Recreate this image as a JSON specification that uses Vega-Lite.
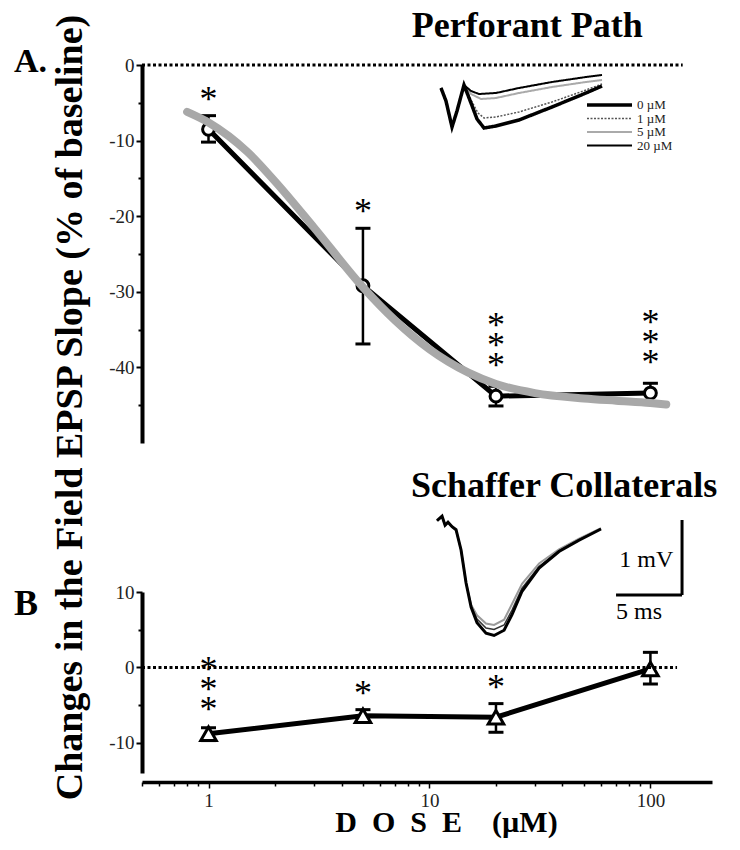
{
  "$schema": "https://vega.github.io/schema/vega-lite/v6.json",
  "padding": {"left": 13, "top": 8, "right": 5, "bottom": 5},
  "config": {
    "font": "Liberation Serif",
    "view": {"stroke": null},
    "axis": {"grid": false, "domainColor": "black", "tickColor": "black", "labelColor": "#222", "labelFont": "Liberation Serif", "labelFontSize": 19, "titleFont": "Liberation Serif", "titleColor": "black"},
    "legend": {"orient": "none", "legendX": 443, "legendY": 34, "symbolType": "stroke", "symbolSize": 2025, "clipHeight": 12, "labelFont": "Liberation Serif", "labelFontSize": 13, "labelColor": "#222", "rowPadding": 0.5, "labelOffset": 3}
  },
  "datasets": {
    "ptsA": [
      {"dose": 1, "mean": -8.5, "lo": -10.2, "hi": -6.7, "stars": "*"},
      {"dose": 5, "mean": -29.2, "lo": -36.9, "hi": -21.6, "stars": "*"},
      {"dose": 20, "mean": -43.8, "lo": -45.1, "hi": -42.5, "stars": "***"},
      {"dose": 100, "mean": -43.4, "lo": -44.7, "hi": -42.1, "stars": "***"}
    ],
    "fitA": [
      {"dose": 0.8, "fit": -6.2},
      {"dose": 1, "fit": -7.6},
      {"dose": 1.5, "fit": -11.5},
      {"dose": 2, "fit": -15.4},
      {"dose": 3, "fit": -21.5},
      {"dose": 5, "fit": -29.4},
      {"dose": 7, "fit": -33.8},
      {"dose": 10, "fit": -37.6},
      {"dose": 15, "fit": -40.7},
      {"dose": 20, "fit": -42.2},
      {"dose": 30, "fit": -43.4},
      {"dose": 50, "fit": -44.1},
      {"dose": 70, "fit": -44.4},
      {"dose": 100, "fit": -44.7},
      {"dose": 118, "fit": -44.9}
    ],
    "ptsB": [
      {"dose": 1, "mean": -8.8, "lo": -9.7, "hi": -8.0, "stars": "***"},
      {"dose": 5, "mean": -6.4, "lo": -7.2, "hi": -5.6, "stars": "*"},
      {"dose": 20, "mean": -6.6, "lo": -8.6, "hi": -4.8, "stars": "*"},
      {"dose": 100, "mean": -0.2, "lo": -2.2, "hi": 2.0, "stars": ""}
    ],
    "tracesA": [
      {"conc": "5 µM", "t": 0, "v": -0.25}, {"conc": "5 µM", "t": 0.5, "v": -0.9}, {"conc": "5 µM", "t": 1.1, "v": -2.2}, {"conc": "5 µM", "t": 1.6, "v": -1.4}, {"conc": "5 µM", "t": 2.3, "v": -0.1},
      {"conc": "5 µM", "t": 3.0, "v": -0.55}, {"conc": "5 µM", "t": 4.0, "v": -0.8}, {"conc": "5 µM", "t": 5.5, "v": -0.75}, {"conc": "5 µM", "t": 7.8, "v": -0.5}, {"conc": "5 µM", "t": 11.1, "v": -0.2}, {"conc": "5 µM", "t": 14.5, "v": 0.05}, {"conc": "5 µM", "t": 16.1, "v": 0.15},
      {"conc": "1 µM", "t": 0, "v": -0.25}, {"conc": "1 µM", "t": 0.5, "v": -0.9}, {"conc": "1 µM", "t": 1.1, "v": -2.2}, {"conc": "1 µM", "t": 1.6, "v": -1.4}, {"conc": "1 µM", "t": 2.3, "v": -0.1},
      {"conc": "1 µM", "t": 3.0, "v": -0.85}, {"conc": "1 µM", "t": 3.7, "v": -1.5}, {"conc": "1 µM", "t": 4.3, "v": -1.75}, {"conc": "1 µM", "t": 5.5, "v": -1.7}, {"conc": "1 µM", "t": 7.8, "v": -1.45}, {"conc": "1 µM", "t": 11.1, "v": -0.95}, {"conc": "1 µM", "t": 14.5, "v": -0.35}, {"conc": "1 µM", "t": 16.1, "v": -0.05},
      {"conc": "20 µM", "t": 0, "v": -0.25}, {"conc": "20 µM", "t": 0.5, "v": -0.9}, {"conc": "20 µM", "t": 1.1, "v": -2.2}, {"conc": "20 µM", "t": 1.6, "v": -1.4}, {"conc": "20 µM", "t": 2.3, "v": -0.1},
      {"conc": "20 µM", "t": 3.0, "v": -0.4}, {"conc": "20 µM", "t": 3.8, "v": -0.55}, {"conc": "20 µM", "t": 5.5, "v": -0.5}, {"conc": "20 µM", "t": 7.8, "v": -0.25}, {"conc": "20 µM", "t": 11.1, "v": 0.05}, {"conc": "20 µM", "t": 14.5, "v": 0.3}, {"conc": "20 µM", "t": 16.1, "v": 0.4},
      {"conc": "0 µM", "t": 0, "v": -0.25}, {"conc": "0 µM", "t": 0.5, "v": -0.9}, {"conc": "0 µM", "t": 1.1, "v": -2.2}, {"conc": "0 µM", "t": 1.6, "v": -1.4}, {"conc": "0 µM", "t": 2.3, "v": -0.1},
      {"conc": "0 µM", "t": 3.0, "v": -1.0}, {"conc": "0 µM", "t": 3.6, "v": -1.8}, {"conc": "0 µM", "t": 4.3, "v": -2.25}, {"conc": "0 µM", "t": 5.5, "v": -2.15}, {"conc": "0 µM", "t": 7.8, "v": -1.85}, {"conc": "0 µM", "t": 11.1, "v": -1.2}, {"conc": "0 µM", "t": 14.5, "v": -0.5}, {"conc": "0 µM", "t": 16.1, "v": -0.15}
    ],
    "tracesB": [
      {"tr": "b3", "t": 0, "v": -0.01}, {"tr": "b3", "t": 0.38, "v": 0.05}, {"tr": "b3", "t": 0.61, "v": -0.07}, {"tr": "b3", "t": 0.83, "v": -0.03}, {"tr": "b3", "t": 1.14, "v": -0.09}, {"tr": "b3", "t": 1.44, "v": -0.13}, {"tr": "b3", "t": 1.82, "v": -0.4}, {"tr": "b3", "t": 2.2, "v": -0.84}, {"tr": "b3", "t": 2.58, "v": -1.13},
      {"tr": "b3", "t": 3.03, "v": -1.27}, {"tr": "b3", "t": 3.71, "v": -1.38}, {"tr": "b3", "t": 4.32, "v": -1.4}, {"tr": "b3", "t": 5.08, "v": -1.33}, {"tr": "b3", "t": 5.68, "v": -1.12}, {"tr": "b3", "t": 6.44, "v": -0.85}, {"tr": "b3", "t": 7.73, "v": -0.58}, {"tr": "b3", "t": 9.24, "v": -0.39}, {"tr": "b3", "t": 10.76, "v": -0.25}, {"tr": "b3", "t": 12.42, "v": -0.11},
      {"tr": "b2", "t": 0, "v": -0.01}, {"tr": "b2", "t": 0.38, "v": 0.05}, {"tr": "b2", "t": 0.61, "v": -0.07}, {"tr": "b2", "t": 0.83, "v": -0.03}, {"tr": "b2", "t": 1.14, "v": -0.09}, {"tr": "b2", "t": 1.44, "v": -0.13}, {"tr": "b2", "t": 1.82, "v": -0.4}, {"tr": "b2", "t": 2.2, "v": -0.84}, {"tr": "b2", "t": 2.58, "v": -1.15},
      {"tr": "b2", "t": 3.03, "v": -1.32}, {"tr": "b2", "t": 3.71, "v": -1.44}, {"tr": "b2", "t": 4.32, "v": -1.46}, {"tr": "b2", "t": 5.08, "v": -1.4}, {"tr": "b2", "t": 5.68, "v": -1.2}, {"tr": "b2", "t": 6.44, "v": -0.91}, {"tr": "b2", "t": 7.73, "v": -0.62}, {"tr": "b2", "t": 9.24, "v": -0.41}, {"tr": "b2", "t": 10.76, "v": -0.26}, {"tr": "b2", "t": 12.42, "v": -0.12},
      {"tr": "b1", "t": 0, "v": -0.01}, {"tr": "b1", "t": 0.38, "v": 0.05}, {"tr": "b1", "t": 0.61, "v": -0.07}, {"tr": "b1", "t": 0.83, "v": -0.03}, {"tr": "b1", "t": 1.14, "v": -0.09}, {"tr": "b1", "t": 1.44, "v": -0.13}, {"tr": "b1", "t": 1.82, "v": -0.4}, {"tr": "b1", "t": 2.2, "v": -0.84}, {"tr": "b1", "t": 2.58, "v": -1.16},
      {"tr": "b1", "t": 3.03, "v": -1.37}, {"tr": "b1", "t": 3.71, "v": -1.51}, {"tr": "b1", "t": 4.32, "v": -1.54}, {"tr": "b1", "t": 5.08, "v": -1.47}, {"tr": "b1", "t": 5.68, "v": -1.26}, {"tr": "b1", "t": 6.44, "v": -0.95}, {"tr": "b1", "t": 7.73, "v": -0.64}, {"tr": "b1", "t": 9.24, "v": -0.42}, {"tr": "b1", "t": 10.76, "v": -0.27}, {"tr": "b1", "t": 12.42, "v": -0.12}
    ]
  },
  "vconcat": [
    {
      "width": 570,
      "height": 378,
      "layer": [
        {
          "layer": [
            {
              "data": {"name": "ptsA"},
              "encoding": {
                "x": {"field": "dose", "type": "quantitative", "scale": {"type": "log", "domain": [0.5, 190], "nice": false}, "axis": null},
                "y": {"field": "mean", "type": "quantitative", "scale": {"domain": [-50, 0], "nice": false, "zero": false},
                  "axis": {
                    "values": [0, -5, -10, -15, -20, -25, -30, -35, -40, -45],
                    "labelExpr": "datum.value % 10 == 0 ? toString(datum.value) : ''",
                    "tickSize": {"condition": {"test": "datum.value % 10 == 0", "value": 6}, "value": 4},
                    "tickWidth": 2, "domainWidth": 4, "labelPadding": 2,
                    "title": "Changes in the Field EPSP Slope (% of baseline)",
                    "titleFontSize": 38, "titleFontWeight": "bold",
                    "titleX": -72, "titleY": 342, "titleAngle": 270, "titleAlign": "center", "titleBaseline": "middle"
                  }}
              },
              "layer": [
                {"mark": {"type": "line", "color": "black", "strokeWidth": 5}},
                {"mark": {"type": "rule", "color": "black", "strokeWidth": 2.5},
                  "encoding": {"y": {"field": "lo", "type": "quantitative"}, "y2": {"field": "hi"}}},
                {"mark": {"type": "tick", "orient": "horizontal", "color": "black", "size": 15, "thickness": 3, "opacity": 1},
                  "encoding": {"y": {"field": "lo", "type": "quantitative"}}},
                {"mark": {"type": "tick", "orient": "horizontal", "color": "black", "size": 15, "thickness": 3, "opacity": 1},
                  "encoding": {"y": {"field": "hi", "type": "quantitative"}}},
                {"mark": {"type": "point", "shape": "circle", "size": 140, "filled": true, "fill": "white", "stroke": "black", "strokeWidth": 3, "opacity": 1}},
                {"data": {"name": "fitA"}, "mark": {"type": "line", "color": "#a8a8a8", "strokeWidth": 8, "interpolate": "monotone", "strokeCap": "round"},
                  "encoding": {"y": {"field": "fit", "type": "quantitative"}}},
                {"transform": [{"filter": "datum.stars == '*'"}],
                  "mark": {"type": "text", "text": "*", "fontSize": 36, "baseline": "bottom", "dy": 3, "color": "black"},
                  "encoding": {"y": {"field": "hi", "type": "quantitative"}}},
                {"transform": [{"filter": "datum.stars == '***'"}],
                  "mark": {"type": "text", "text": ["*", "*", "*"], "fontSize": 36, "lineHeight": 20, "baseline": "bottom", "dy": -41, "color": "black"},
                  "encoding": {"y": {"field": "hi", "type": "quantitative"}}}
              ]
            },
            {
              "data": {"values": [{}]},
              "layer": [
                {"mark": {"type": "rule", "strokeDash": [3, 2.5], "strokeWidth": 3, "color": "black"},
                  "encoding": {"x": {"datum": 0.5}, "x2": {"datum": 140}, "y": {"datum": 0}}},
                {"mark": {"type": "text", "text": "A.", "fontSize": 34, "fontWeight": "bold", "align": "left", "baseline": "alphabetic", "color": "black"},
                  "encoding": {"x": {"datum": 0.1317}, "y": {"datum": -0.93}}},
                {"mark": {"type": "text", "text": "Perforant Path", "fontSize": 36, "fontWeight": "bold", "align": "center", "baseline": "alphabetic", "color": "black"},
                  "encoding": {"x": {"datum": 27.7}, "y": {"datum": 3.7}}}
              ]
            }
          ]
        },
        {
          "data": {"name": "tracesA"},
          "mark": {"type": "line"},
          "encoding": {
            "x": {"field": "t", "type": "quantitative", "scale": {"domain": [-29.9, 27.1], "nice": false, "zero": false}, "axis": null},
            "y": {"field": "v", "type": "quantitative", "scale": {"domain": [-18, 0.9], "nice": false, "zero": false}, "axis": null},
            "color": {"field": "conc", "type": "nominal", "scale": {"domain": ["0 µM", "1 µM", "5 µM", "20 µM"], "range": ["black", "#555555", "#aaaaaa", "black"]}, "legend": {"title": null}},
            "strokeDash": {"field": "conc", "type": "nominal", "scale": {"domain": ["0 µM", "1 µM", "5 µM", "20 µM"], "range": [[1, 0], [2, 1.5], [1, 0], [1, 0]]}, "legend": {"title": null}},
            "strokeWidth": {"field": "conc", "type": "ordinal", "scale": {"type": "ordinal", "domain": ["0 µM", "1 µM", "5 µM", "20 µM"], "range": [3.5, 1.5, 2, 2]}, "legend": {"title": null}}
          }
        }
      ],
      "resolve": {"scale": {"x": "independent", "y": "independent"}}
    },
    {
      "width": 570,
      "height": 181,
      "layer": [
        {
          "layer": [
            {
              "data": {"name": "ptsB"},
              "encoding": {
                "x": {"field": "dose", "type": "quantitative", "scale": {"type": "log", "domain": [0.5, 190], "nice": false},
                  "axis": {
                    "values": [0.5, 0.6, 0.7, 0.8, 0.9, 1, 2, 3, 4, 5, 6, 7, 8, 9, 10, 20, 30, 40, 50, 60, 70, 80, 90, 100],
                    "labelExpr": "(datum.value == 1 || datum.value == 10 || datum.value == 100) ? toString(datum.value) : ''",
                    "tickSize": {"condition": {"test": "datum.value == 1 || datum.value == 10 || datum.value == 100", "value": 6}, "value": 4},
                    "tickWidth": 1.5, "domainWidth": 3.5, "offset": 9, "labelPadding": 3, "labelFlush": false, "labelOverlap": false,
                    "title": "D\u2002O\u2002S\u2002E\u2003(µM)", "titleFontSize": 30, "titleFontWeight": "bold", "titleX": 304, "titlePadding": -3
                  }},
                "y": {"field": "mean", "type": "quantitative", "scale": {"domain": [-14, 10], "nice": false, "zero": false},
                  "axis": {
                    "values": [10, 5, 0, -5, -10],
                    "labelExpr": "datum.value % 10 == 0 ? toString(datum.value) : ''",
                    "tickSize": {"condition": {"test": "datum.value % 10 == 0", "value": 6}, "value": 4},
                    "tickWidth": 2, "domainWidth": 4, "labelPadding": 2, "title": null
                  }}
              },
              "layer": [
                {"mark": {"type": "line", "color": "black", "strokeWidth": 5}},
                {"mark": {"type": "rule", "color": "black", "strokeWidth": 2.5},
                  "encoding": {"y": {"field": "lo", "type": "quantitative"}, "y2": {"field": "hi"}}},
                {"mark": {"type": "tick", "orient": "horizontal", "color": "black", "size": 15, "thickness": 3, "opacity": 1},
                  "encoding": {"y": {"field": "lo", "type": "quantitative"}}},
                {"mark": {"type": "tick", "orient": "horizontal", "color": "black", "size": 15, "thickness": 3, "opacity": 1},
                  "encoding": {"y": {"field": "hi", "type": "quantitative"}}},
                {"mark": {"type": "point", "shape": "triangle-up", "size": 240, "filled": true, "fill": "white", "stroke": "black", "strokeWidth": 3, "opacity": 1}},
                {"transform": [{"filter": "datum.stars == '*'"}],
                  "mark": {"type": "text", "text": "*", "fontSize": 36, "baseline": "bottom", "dy": 3, "color": "black"},
                  "encoding": {"y": {"field": "hi", "type": "quantitative"}}},
                {"transform": [{"filter": "datum.stars == '***'"}],
                  "mark": {"type": "text", "text": ["*", "*", "*"], "fontSize": 36, "lineHeight": 20, "baseline": "bottom", "dy": -39, "color": "black"},
                  "encoding": {"y": {"field": "hi", "type": "quantitative"}}}
              ]
            },
            {
              "data": {"values": [{}]},
              "layer": [
                {"mark": {"type": "rule", "strokeDash": [3, 2.5], "strokeWidth": 3, "color": "black"},
                  "encoding": {"x": {"datum": 0.5}, "x2": {"datum": 132}, "y": {"datum": 0}}},
                {"mark": {"type": "text", "text": "B", "fontSize": 36, "fontWeight": "bold", "align": "left", "baseline": "alphabetic", "color": "black"},
                  "encoding": {"x": {"datum": 0.1317}, "y": {"datum": 6.95}}},
                {"mark": {"type": "text", "text": "Schaffer Collaterals", "fontSize": 36, "fontWeight": "bold", "align": "center", "baseline": "alphabetic", "color": "black"},
                  "encoding": {"x": {"datum": 40.7}, "y": {"datum": 22.6}}}
              ]
            }
          ]
        },
        {
          "encoding": {
            "x": {"type": "quantitative", "scale": {"domain": [-22.35, 20.83], "nice": false, "zero": false}, "axis": null},
            "y": {"type": "quantitative", "scale": {"domain": [-3.373, -0.96], "nice": false, "zero": false}, "axis": null}
          },
          "layer": [
            {"data": {"name": "tracesB"}, "mark": {"type": "line"},
              "encoding": {
                "x": {"field": "t", "type": "quantitative"},
                "y": {"field": "v", "type": "quantitative"},
                "color": {"field": "tr", "type": "nominal", "scale": {"domain": ["b3", "b2", "b1"], "range": ["#9a9a9a", "#333333", "black"]}, "legend": null},
                "strokeWidth": {"field": "tr", "type": "ordinal", "scale": {"type": "ordinal", "domain": ["b3", "b2", "b1"], "range": [2, 1.5, 3]}, "legend": null}
              }},
            {"data": {"values": [{}]}, "mark": {"type": "rule", "color": "black", "strokeWidth": 3},
              "encoding": {"x": {"datum": 18.56}, "y": {"datum": 0}, "y2": {"datum": -1.0}}},
            {"data": {"values": [{}]}, "mark": {"type": "rule", "color": "black", "strokeWidth": 3},
              "encoding": {"x": {"datum": 13.56}, "x2": {"datum": 18.56}, "y": {"datum": -1.0}}},
            {"data": {"values": [{}]}, "mark": {"type": "text", "text": "1 mV", "fontSize": 24, "align": "right", "baseline": "middle", "color": "black"},
              "encoding": {"x": {"datum": 17.9}, "y": {"datum": -0.53}}},
            {"data": {"values": [{}]}, "mark": {"type": "text", "text": "5 ms", "fontSize": 24, "align": "left", "baseline": "middle", "color": "black"},
              "encoding": {"x": {"datum": 13.56}, "y": {"datum": -1.22}}}
          ]
        }
      ],
      "resolve": {"scale": {"x": "independent", "y": "independent"}}
    }
  ],
  "spacing": 149,
  "bounds": "flush",
  "resolve": {"scale": {"x": "independent", "y": "independent", "color": "independent", "strokeDash": "independent", "strokeWidth": "independent"}}
}
